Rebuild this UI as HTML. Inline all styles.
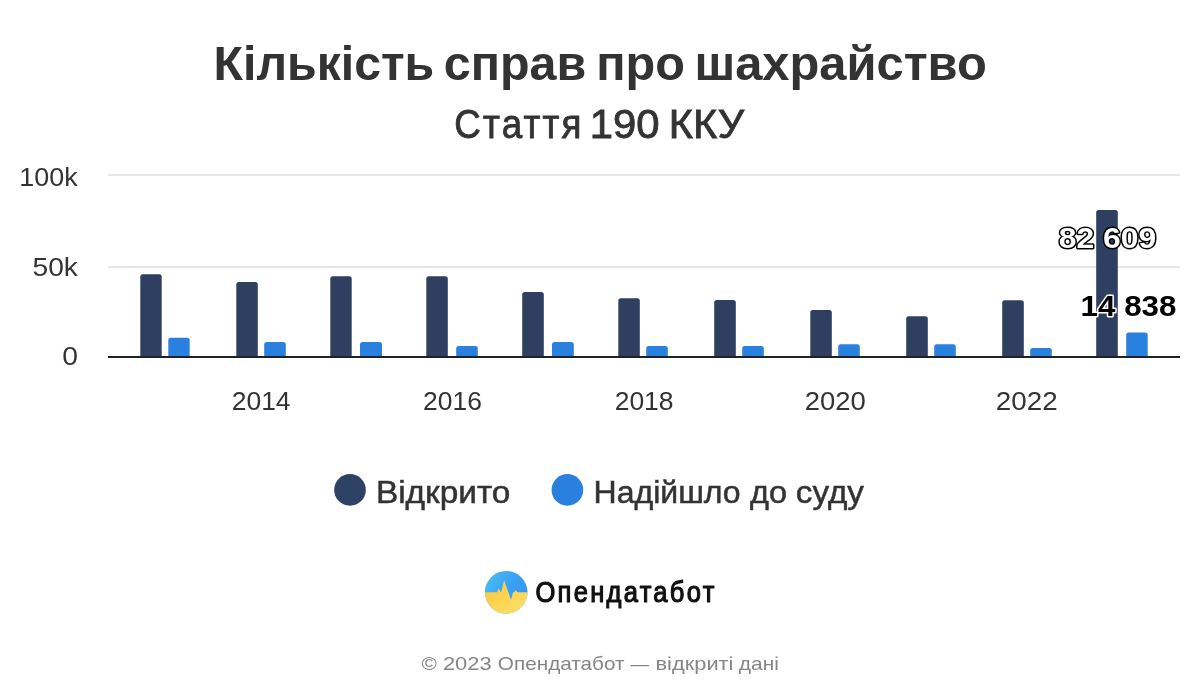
<!DOCTYPE html>
<html><head><meta charset="utf-8"><style>
html,body{margin:0;padding:0;background:#fff;width:1200px;height:700px;overflow:hidden}
svg{display:block;will-change:transform}
text{font-family:"Liberation Sans",sans-serif}
</style></head><body>
<svg width="1200" height="700" viewBox="0 0 1200 700">
<rect width="1200" height="700" fill="#fff"/>
<defs>
<linearGradient id="gb" x1="0" y1="0" x2="1" y2="0.5"><stop offset="0" stop-color="#4cc0f4"/><stop offset="0.6" stop-color="#3aa2f3"/><stop offset="1" stop-color="#3597f0"/></linearGradient>
<linearGradient id="gy" x1="0" y1="0" x2="1" y2="1"><stop offset="0" stop-color="#fbc53a"/><stop offset="1" stop-color="#fde46c"/></linearGradient>
<clipPath id="cc"><circle cx="506.2" cy="592.2" r="21.3"/></clipPath>
</defs>
<rect x="108" y="174" width="1072" height="2" fill="#e6e6e6"/>
<rect x="108" y="266" width="1072" height="2" fill="#e6e6e6"/>
<text x="213.59" y="79.50" font-size="49" textLength="220.63" lengthAdjust="spacingAndGlyphs" font-weight="bold" fill="#333">Кількість</text>
<text x="443.84" y="79.50" font-size="49" textLength="142.49" lengthAdjust="spacingAndGlyphs" font-weight="bold" fill="#333">справ</text>
<text x="596.13" y="79.50" font-size="49" textLength="88.80" lengthAdjust="spacingAndGlyphs" font-weight="bold" fill="#333">про</text>
<text x="694.51" y="79.50" font-size="49" textLength="292.32" lengthAdjust="spacingAndGlyphs" font-weight="bold" fill="#333">шахрайство</text>
<text transform="translate(454.32,137.80) scale(0.92,1)" x="0" y="0" font-size="40" textLength="138.11" lengthAdjust="spacing" fill="#333" stroke="#333" stroke-width="0.85">Стаття</text>
<text x="589.89" y="137.80" font-size="40" textLength="69.76" lengthAdjust="spacingAndGlyphs" fill="#333" stroke="#333" stroke-width="0.85">190</text>
<text x="668.89" y="137.80" font-size="40" textLength="75.23" lengthAdjust="spacingAndGlyphs" fill="#333" stroke="#333" stroke-width="0.85">ККУ</text>
<text x="19.26" y="185.70" font-size="26" textLength="58.40" lengthAdjust="spacingAndGlyphs" fill="#333">100k</text>
<text x="32.51" y="276.00" font-size="26" textLength="45.48" lengthAdjust="spacingAndGlyphs" fill="#333">50k</text>
<text x="62.38" y="365.20" font-size="26" textLength="15.72" lengthAdjust="spacingAndGlyphs" fill="#333">0</text>
<text x="231.69" y="409.90" font-size="25.5" textLength="58.89" lengthAdjust="spacingAndGlyphs" fill="#333">2014</text>
<text x="423.05" y="409.90" font-size="25.5" textLength="58.80" lengthAdjust="spacingAndGlyphs" fill="#333">2016</text>
<text x="614.69" y="409.90" font-size="25.5" textLength="58.88" lengthAdjust="spacingAndGlyphs" fill="#333">2018</text>
<text x="804.73" y="409.90" font-size="25.5" textLength="61.06" lengthAdjust="spacingAndGlyphs" fill="#333">2020</text>
<text x="995.89" y="409.90" font-size="25.5" textLength="61.78" lengthAdjust="spacingAndGlyphs" fill="#333">2022</text>
<text x="375.94" y="503.00" font-size="31" textLength="134.49" lengthAdjust="spacingAndGlyphs" fill="#333" stroke="#333" stroke-width="0.5">Відкрито</text>
<text x="593.62" y="503.00" font-size="31" textLength="147.06" lengthAdjust="spacingAndGlyphs" fill="#333" stroke="#333" stroke-width="0.5">Надійшло</text>
<text x="750.03" y="503.00" font-size="31" textLength="36.96" lengthAdjust="spacingAndGlyphs" fill="#333" stroke="#333" stroke-width="0.5">до</text>
<text x="795.87" y="503.00" font-size="31" textLength="68.10" lengthAdjust="spacingAndGlyphs" fill="#333" stroke="#333" stroke-width="0.5">суду</text>
<text transform="translate(535.49,601.70) scale(0.88,1)" x="0" y="0" font-size="29" textLength="203.28" lengthAdjust="spacing" fill="#111" stroke="#111" stroke-width="1.2" stroke-linejoin="round">Опендатабот</text>
<text x="421.54" y="669.50" font-size="19" textLength="15.38" lengthAdjust="spacingAndGlyphs" fill="#868686">©</text>
<text x="442.94" y="669.50" font-size="19" textLength="48.68" lengthAdjust="spacingAndGlyphs" fill="#868686">2023</text>
<text x="497.89" y="669.50" font-size="19" textLength="126.58" lengthAdjust="spacingAndGlyphs" fill="#868686">Опендатабот</text>
<text x="630.45" y="669.50" font-size="19" textLength="18.47" lengthAdjust="spacingAndGlyphs" fill="#868686">—</text>
<text x="655.53" y="669.50" font-size="19" textLength="77.95" lengthAdjust="spacingAndGlyphs" fill="#868686">відкриті</text>
<text x="738.88" y="669.50" font-size="19" textLength="40.02" lengthAdjust="spacingAndGlyphs" fill="#868686">дані</text>
<path d="M140.3,357 L140.3,276.7 Q140.3,274.2 142.8,274.2 L159.2,274.2 Q161.7,274.2 161.7,276.7 L161.7,357 Z" fill="#2e3f62"/>
<path d="M236.3,357 L236.3,284.5 Q236.3,282.0 238.8,282.0 L255.3,282.0 Q257.8,282.0 257.8,284.5 L257.8,357 Z" fill="#2e3f62"/>
<path d="M330.3,357 L330.3,278.7 Q330.3,276.2 332.8,276.2 L349.2,276.2 Q351.7,276.2 351.7,278.7 L351.7,357 Z" fill="#2e3f62"/>
<path d="M426.3,357 L426.3,278.7 Q426.3,276.2 428.8,276.2 L445.3,276.2 Q447.8,276.2 447.8,278.7 L447.8,357 Z" fill="#2e3f62"/>
<path d="M522.2,357 L522.2,294.5 Q522.2,292.0 524.7,292.0 L541.3,292.0 Q543.8,292.0 543.8,294.5 L543.8,357 Z" fill="#2e3f62"/>
<path d="M618.3,357 L618.3,300.7 Q618.3,298.2 620.8,298.2 L637.3,298.2 Q639.8,298.2 639.8,300.7 L639.8,357 Z" fill="#2e3f62"/>
<path d="M714.2,357 L714.2,302.5 Q714.2,300.0 716.7,300.0 L733.3,300.0 Q735.8,300.0 735.8,302.5 L735.8,357 Z" fill="#2e3f62"/>
<path d="M810.3,357 L810.3,312.5 Q810.3,310.0 812.8,310.0 L829.3,310.0 Q831.8,310.0 831.8,312.5 L831.8,357 Z" fill="#2e3f62"/>
<path d="M906.2,357 L906.2,318.7 Q906.2,316.2 908.7,316.2 L925.3,316.2 Q927.8,316.2 927.8,318.7 L927.8,357 Z" fill="#2e3f62"/>
<path d="M1002.2,357 L1002.2,302.7 Q1002.2,300.2 1004.7,300.2 L1021.3,300.2 Q1023.8,300.2 1023.8,302.7 L1023.8,357 Z" fill="#2e3f62"/>
<path d="M1096.2,357 L1096.2,212.5 Q1096.2,210.0 1098.7,210.0 L1115.3,210.0 Q1117.8,210.0 1117.8,212.5 L1117.8,357 Z" fill="#2e3f62"/>
<path d="M168.3,357 L168.3,340.3 Q168.3,337.8 170.8,337.8 L187.2,337.8 Q189.7,337.8 189.7,340.3 L189.7,357 Z" fill="#2a80de"/>
<path d="M264.2,357 L264.2,344.5 Q264.2,342.0 266.7,342.0 L283.3,342.0 Q285.8,342.0 285.8,344.5 L285.8,357 Z" fill="#2a80de"/>
<path d="M360.0,357 L360.0,344.5 Q360.0,342.0 362.5,342.0 L379.5,342.0 Q382.0,342.0 382.0,344.5 L382.0,357 Z" fill="#2a80de"/>
<path d="M456.2,357 L456.2,348.5 Q456.2,346.0 458.7,346.0 L475.3,346.0 Q477.8,346.0 477.8,348.5 L477.8,357 Z" fill="#2a80de"/>
<path d="M552.0,357 L552.0,344.5 Q552.0,342.0 554.5,342.0 L571.3,342.0 Q573.8,342.0 573.8,344.5 L573.8,357 Z" fill="#2a80de"/>
<path d="M646.2,357 L646.2,348.5 Q646.2,346.0 648.7,346.0 L665.3,346.0 Q667.8,346.0 667.8,348.5 L667.8,357 Z" fill="#2a80de"/>
<path d="M742.2,357 L742.2,348.5 Q742.2,346.0 744.7,346.0 L761.3,346.0 Q763.8,346.0 763.8,348.5 L763.8,357 Z" fill="#2a80de"/>
<path d="M838.2,357 L838.2,346.7 Q838.2,344.2 840.7,344.2 L857.3,344.2 Q859.8,344.2 859.8,346.7 L859.8,357 Z" fill="#2a80de"/>
<path d="M934.2,357 L934.2,346.7 Q934.2,344.2 936.7,344.2 L953.3,344.2 Q955.8,344.2 955.8,346.7 L955.8,357 Z" fill="#2a80de"/>
<path d="M1030.2,357 L1030.2,350.5 Q1030.2,348.0 1032.7,348.0 L1049.3,348.0 Q1051.8,348.0 1051.8,350.5 L1051.8,357 Z" fill="#2a80de"/>
<path d="M1126.2,357 L1126.2,334.9 Q1126.2,332.4 1128.7,332.4 L1145.2,332.4 Q1147.7,332.4 1147.7,334.9 L1147.7,357 Z" fill="#2a80de"/>
<rect x="108" y="356" width="1072" height="2" fill="#222"/>
<text x="1058.80" y="248.00" font-size="29" textLength="97.40" lengthAdjust="spacingAndGlyphs" font-weight="bold" fill="#fff" stroke="#000" stroke-width="2.8" paint-order="stroke" stroke-linejoin="round">82 609</text>
<text x="1080.60" y="315.80" font-size="29" textLength="95.80" lengthAdjust="spacingAndGlyphs" font-weight="bold" fill="#000" stroke="#fff" stroke-width="2.8" paint-order="stroke" stroke-linejoin="round">14 838</text>
<circle cx="350" cy="489.9" r="15.8" fill="#2e4266"/>
<circle cx="567.4" cy="489.9" r="15.8" fill="#2a80de"/>
<g clip-path="url(#cc)">
<rect x="484" y="570" width="44" height="44" fill="url(#gb)"/>
<path d="M484,592.2 L497,592.2 L498.8,588.2 L500.5,592 L501.4,591.2 L504.1,580.2 L511,599.8 L513,592.2 L514.4,592.2 L515.8,589.9 L517.3,592.2 L529,592.2 L529,615 L484,615 Z" fill="url(#gy)"/>
</g>
</svg>
</body></html>
